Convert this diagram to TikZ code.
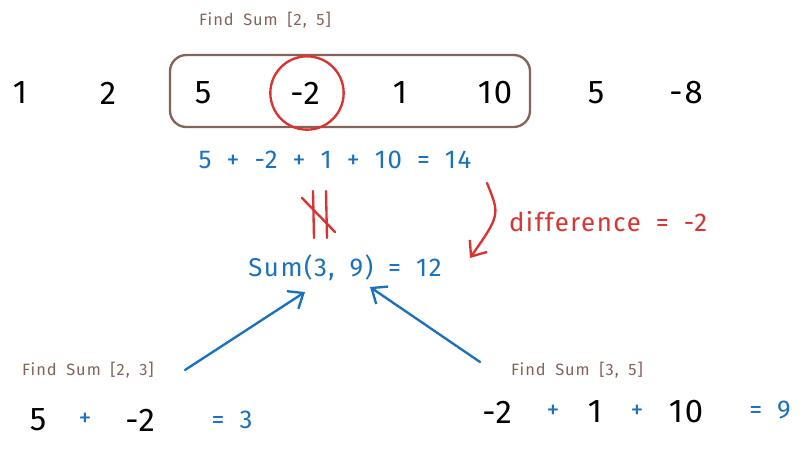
\documentclass[tikz,border=0pt]{standalone}
\usetikzlibrary{arrows.meta}
\usepackage{fontspec}
\setmainfont[LetterSpace=6,WordSpace=1.8]{Fira Sans}
\definecolor{brn}{HTML}{846358}
\definecolor{blu}{HTML}{1971C2}
\definecolor{rd}{HTML}{E03131}
\begin{document}
\begin{tikzpicture}[x=0.03cm,y=-0.03cm,
  num/.style={font=\fontsize{28}{30}\selectfont,text=black},
  bnum/.style={font=\fontsize{22}{24}\selectfont,text=blu},
  lbl/.style={font=\fontsize{14}{16}\selectfont,text=brn},
  arr/.style={line width=2pt,line cap=round,-{Straight Barb[length=11pt,width=18pt]}}]
\useasboundingbox (0,0) rectangle (803,456);
\node[lbl] (t1) at (265,20) {Find Sum [2, 5]};
\foreach \v/\x/\n in {1/20/a1,2/108/a2,5/203/a3,-2/305/a4,1/400/a5,10/495/a6,5/596/a7,-8/686/a8}
  \node[num] (\n) at (\x,93) {\v};
\draw[brn,line width=2pt,rounded corners=14pt] (170,55) rectangle (530,127);
\node[draw=rd,line width=2pt,circle,minimum size=2.2cm] (c) at (307,93) {};
\node[bnum] (s1) at (335,160) {5 + -2 + 1 + 10 = 14};
\draw[rd,line width=2pt,line cap=round] (313,191)--(314,238) (326,191)--(327,238) (302,198)--(335,232);
\coordinate (d0) at (487,183);
\node[bnum] (s2) at (345,268) {Sum(3, 9) = 12};
\draw[arr,rd] (d0) .. controls (500,215) .. (470,258);
\node[font=\fontsize{22}{24}\selectfont,text=rd] (df) at (608,222) {difference = -2};
\node[lbl] (t2) at (88,370) {Find Sum [2, 3]};
\node[lbl] (t3) at (577,370) {Find Sum [3, 5]};
\coordinate (p1) at (185,370); \coordinate (p2) at (480,362);
\draw[arr,blu] (p1) -- (305,292);
\draw[arr,blu] (p2) -- (370,287);
\node[num] (b1) at (38,420) {5};
\node[bnum] (b2) at (85,420) {+};
\node[num] (b3) at (140,420) {-2};
\node[bnum] (b4) at (232,420) {= 3};
\node[num] (c1) at (497,412) {-2};
\node[bnum] (c2) at (553,412) {+};
\node[num] (c3) at (595,412) {1};
\node[bnum] (c4) at (637,412) {+};
\node[num] (c5) at (686,412) {10};
\node[bnum] (c6) at (770,410) {= 9};
\end{tikzpicture}
\end{document}
